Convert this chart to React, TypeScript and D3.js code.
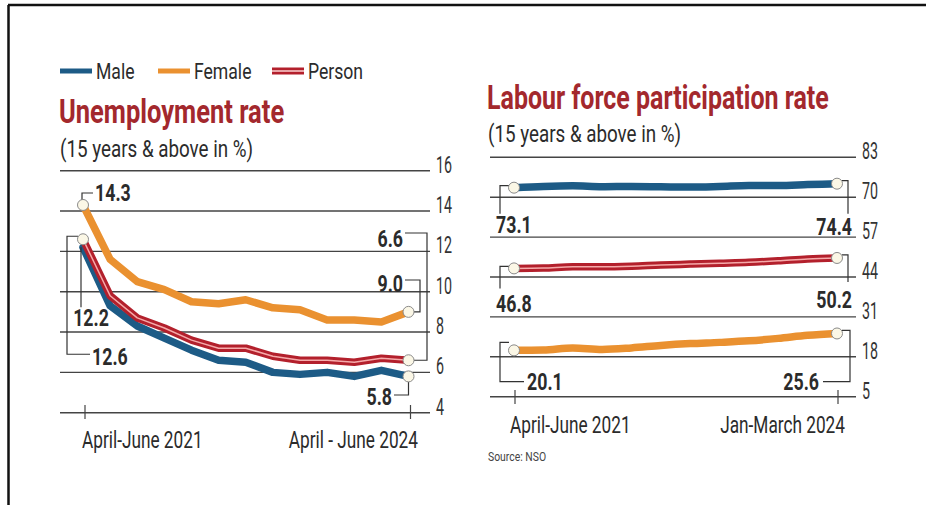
import { useEffect, useRef } from 'react'
import * as d3 from 'd3'

// Unemployment rate, urban, 15+ (%), quarterly
const UR_QUARTERS = ['Apr-Jun 21', 'Jul-Sep 21', 'Oct-Dec 21', 'Jan-Mar 22', 'Apr-Jun 22', 'Jul-Sep 22', 'Oct-Dec 22',
  'Jan-Mar 23', 'Apr-Jun 23', 'Jul-Sep 23', 'Oct-Dec 23', 'Jan-Mar 24', 'Apr-Jun 24']
const UR_MALE   = [12.2, 9.3, 8.3, 7.7, 7.1, 6.6, 6.5, 6.0, 5.9, 6.0, 5.8, 6.1, 5.8]
const UR_FEMALE = [14.3, 11.6, 10.5, 10.1, 9.5, 9.4, 9.6, 9.2, 9.1, 8.6, 8.6, 8.5, 9.0]
const UR_PERSON = [12.6, 9.8, 8.7, 8.2, 7.6, 7.2, 7.2, 6.8, 6.6, 6.6, 6.5, 6.7, 6.6]
const UR_TICKS  = [4, 6, 8, 10, 12, 14, 16]

// Labour force participation rate, urban, 15+ (%)
const LFPR_QUARTERS = ['Apr-Jun 21', 'Jul-Sep 21', 'Oct-Dec 21', 'Jan-Mar 22', 'Apr-Jun 22', 'Jul-Sep 22', 'Oct-Dec 22',
  'Jan-Mar 23', 'Apr-Jun 23', 'Jul-Sep 23', 'Oct-Dec 23', 'Jan-Mar 24']
const LFPR_MALE   = [73.1, 73.5, 73.7, 73.4, 73.5, 73.4, 73.3, 73.5, 73.8, 73.8, 74.1, 74.4]
const LFPR_FEMALE = [20.1, 20.2, 20.9, 20.4, 20.9, 21.7, 22.3, 22.7, 23.2, 24.0, 25.0, 25.6]
const LFPR_PERSON = [46.8, 46.9, 47.3, 47.3, 47.5, 47.9, 48.2, 48.5, 48.8, 49.3, 49.9, 50.2]
const LFPR_TICKS  = [5, 18, 31, 44, 57, 70, 83]

const BLUE   = '#1d5b86'
const ORANGE = '#ea9130'
const RED    = '#b3202c'
const PINK   = '#f6aaaa'
const TITLE  = '#a3282d'
const INK    = '#2b2b2b'
const GRID   = '#444'
const FONT   = "Roboto, 'Noto Sans', sans-serif"

type Sel = d3.Selection<SVGGElement, unknown, null, undefined>

// condensed text: the original face is an extra-condensed sans
function txt(g: Sel, x: number, y: number, s: string, o: { size: number; weight?: number; fill?: string; anchor?: string; sx?: number }) {
  g.append('text')
    .attr('transform', `translate(${x},${y}) scale(${o.sx ?? 0.78},1)`)
    .attr('text-anchor', o.anchor ?? 'start')
    .attr('font-family', FONT)
    .attr('font-size', o.size)
    .attr('font-weight', o.weight ?? 400)
    .attr('fill', o.fill ?? INK)
    .text(s)
}

const VAL = { size: 24, weight: 700, sx: 0.74 }

function bracket(g: Sel, d: string) {
  g.append('path').attr('d', d).attr('fill', 'none').attr('stroke', '#333').attr('stroke-width', 1.2)
}

function drawSeries(g: Sel, xs: d3.ScalePoint<string>, ys: d3.ScaleLinear<number, number>, cats: string[], vals: number[], color: string, double: boolean, curve: d3.CurveFactory) {
  const line = d3.line<number>().x((_, i) => xs(cats[i])!).y(d => ys(d)).curve(curve)
  g.append('path').attr('d', line(vals)).attr('fill', 'none').attr('stroke', color)
    .attr('stroke-width', 7.5).attr('stroke-linejoin', 'round').attr('stroke-linecap', 'round')
  if (double) {
    g.append('path').attr('d', line(vals)).attr('fill', 'none').attr('stroke', PINK)
      .attr('stroke-width', 1.5).attr('stroke-linejoin', 'round')
  }
}

function dot(g: Sel, x: number, y: number) {
  g.append('circle').attr('cx', x).attr('cy', y).attr('r', 5.5)
    .attr('fill', '#fbf7e6').attr('stroke', '#8a8a8a').attr('stroke-width', 1)
}

function grid(g: Sel, ys: d3.ScaleLinear<number, number>, ticks: number[], x0: number, x1: number) {
  ticks.forEach(t => {
    g.append('line').attr('x1', x0).attr('x2', x1).attr('y1', ys(t)).attr('y2', ys(t))
      .attr('stroke', GRID).attr('stroke-width', 1.4)
    txt(g, x1 + 6, ys(t) + 2, String(t), { size: 23, sx: 0.62, fill: '#333' })
  })
}

export default function App() {
  const svgRef = useRef<SVGSVGElement>(null)

  useEffect(() => {
    if (!svgRef.current) return
    const svg = d3.select(svgRef.current)
    svg.selectAll('*').remove()
    const root = svg.append('g') as unknown as Sel

    // frame (top + left rule)
    root.append('line').attr('x1', 8).attr('x2', 926).attr('y1', 5).attr('y2', 5).attr('stroke', '#111').attr('stroke-width', 2.5)
    root.append('line').attr('x1', 8.5).attr('x2', 8.5).attr('y1', 5).attr('y2', 505).attr('stroke', '#111').attr('stroke-width', 2.5)

    // ---------- Unemployment rate ----------
    const L = root.append('g') as unknown as Sel
    const xU = d3.scalePoint<string>().domain(UR_QUARTERS).range([83, 408.5])
    const yU = d3.scaleLinear().domain([4, 16]).range([412.7, 170.7])

    // legend
    const leg = [
      { label: 'Male', color: BLUE, x: 60, double: false },
      { label: 'Female', color: ORANGE, x: 158, double: false },
      { label: 'Person', color: RED, x: 272, double: true },
    ]
    leg.forEach(l => {
      L.append('line').attr('x1', l.x).attr('x2', l.x + 32).attr('y1', 71).attr('y2', 71)
        .attr('stroke', l.color).attr('stroke-width', l.double ? 7 : 5)
      if (l.double) L.append('line').attr('x1', l.x).attr('x2', l.x + 32).attr('y1', 71).attr('y2', 71).attr('stroke', '#fbd0d0').attr('stroke-width', 1.5)
      txt(L, l.x + 36, 79, l.label, { size: 22, sx: 0.8 })
    })

    txt(L, 59, 123, 'Unemployment rate', { size: 34, weight: 700, fill: TITLE, sx: 0.75 })
    txt(L, 60, 157, '(15 years & above in %)', { size: 23.5, sx: 0.8 })

    grid(L, yU, UR_TICKS, 60, 430)
    ;[UR_QUARTERS[0], UR_QUARTERS[UR_QUARTERS.length - 1]].forEach(q => {
      L.append('line').attr('x1', xU(q)! + 2).attr('x2', xU(q)! + 2).attr('y1', 405).attr('y2', 419).attr('stroke', GRID).attr('stroke-width', 1.2)
    })
    txt(L, 82, 448, 'April-June 2021', { size: 23, sx: 0.75 })
    txt(L, 418, 448, 'April - June 2024', { size: 23, sx: 0.75, anchor: 'end' })

    drawSeries(L, xU, yU, UR_QUARTERS, UR_FEMALE, ORANGE, false, d3.curveLinear)
    drawSeries(L, xU, yU, UR_QUARTERS, UR_MALE, BLUE, false, d3.curveLinear)
    drawSeries(L, xU, yU, UR_QUARTERS, UR_PERSON, RED, true, d3.curveLinear)

    const n = UR_QUARTERS.length - 1
    const ux0 = xU(UR_QUARTERS[0])!, ux1 = xU(UR_QUARTERS[n])!
    const f0 = yU(UR_FEMALE[0]), p0 = yU(UR_PERSON[0]), m0 = yU(UR_MALE[0])
    const f1 = yU(UR_FEMALE[n]), p1 = yU(UR_PERSON[n]), m1 = yU(UR_MALE[n])

    bracket(L, `M${ux0 - 1},${f0 - 5} V${f0 - 12} H${ux0 + 10}`)
    txt(L, ux0 + 12, f0 - 4, UR_FEMALE[0].toFixed(1), VAL)
    bracket(L, `M${ux0 - 5},${p0 - 3} H67 V${p0 + 115} H${ux0 + 7}`)
    txt(L, ux0 + 9, p0 + 126, UR_PERSON[0].toFixed(1), VAL)
    bracket(L, `M${ux0 - 2},${m0} V${m0 + 60}`)
    txt(L, ux0 + 8, m0 + 79, UR_MALE[0].toFixed(1), { ...VAL, anchor: 'middle' })

    bracket(L, `M405,233 H427 V${p1} H${ux1 + 5}`)
    txt(L, 403, 247, UR_PERSON[n].toFixed(1), { ...VAL, anchor: 'end' })
    bracket(L, `M405,280 H420 V${f1} H${ux1 + 5}`)
    txt(L, 403, 292, UR_FEMALE[n].toFixed(1), { ...VAL, anchor: 'end' })
    bracket(L, `M${ux1},${m1 + 5} V395 H394`)
    txt(L, 392, 405, UR_MALE[n].toFixed(1), { ...VAL, anchor: 'end' })

    dot(L, ux0, f0); dot(L, ux0, p0)
    dot(L, ux1, f1); dot(L, ux1, p1); dot(L, ux1, m1)

    // ---------- Labour force participation rate ----------
    const R = root.append('g') as unknown as Sel
    const xL = d3.scalePoint<string>().domain(LFPR_QUARTERS).range([514, 837])
    const yL = d3.scaleLinear().domain([5, 83]).range([396.7, 157.3])

    txt(R, 487, 109, 'Labour force participation rate', { size: 34, weight: 700, fill: TITLE, sx: 0.735 })
    txt(R, 488, 142, '(15 years & above in %)', { size: 23.5, sx: 0.8 })

    grid(R, yL, LFPR_TICKS, 490, 856)
    ;[LFPR_QUARTERS[0], LFPR_QUARTERS[LFPR_QUARTERS.length - 1]].forEach(q => {
      R.append('line').attr('x1', xL(q)! + 1).attr('x2', xL(q)! + 1).attr('y1', 390).attr('y2', 404).attr('stroke', GRID).attr('stroke-width', 1.2)
    })
    txt(R, 510, 433, 'April-June 2021', { size: 23, sx: 0.75 })
    txt(R, 845, 433, 'Jan-March 2024', { size: 23, sx: 0.75, anchor: 'end' })
    txt(R, 488, 461, 'Source: NSO', { size: 13, sx: 0.8, fill: '#444' })

    drawSeries(R, xL, yL, LFPR_QUARTERS, LFPR_MALE, BLUE, false, d3.curveMonotoneX)
    drawSeries(R, xL, yL, LFPR_QUARTERS, LFPR_PERSON, RED, true, d3.curveMonotoneX)
    drawSeries(R, xL, yL, LFPR_QUARTERS, LFPR_FEMALE, ORANGE, false, d3.curveMonotoneX)

    const k = LFPR_QUARTERS.length - 1
    const lx0 = xL(LFPR_QUARTERS[0])!, lx1 = xL(LFPR_QUARTERS[k])!
    const series = [
      { vals: LFPR_MALE,   drop: 26, lab: 45 },
      { vals: LFPR_PERSON, drop: 20, lab: 44 },
    ]
    series.forEach(s => {
      const a = yL(s.vals[0]), b = yL(s.vals[k])
      bracket(R, `M${lx0 - 5},${a - 2} H500 V${a + s.drop}`)
      txt(R, 496, a + s.lab, s.vals[0].toFixed(1), VAL)
      bracket(R, `M${lx1 + 5},${b - 3} H848 V${b + s.drop + 4}`)
      txt(R, 852, b + s.lab + 6, s.vals[k].toFixed(1), { ...VAL, anchor: 'end' })
      dot(R, lx0, a); dot(R, lx1, b)
    })
    const fa = yL(LFPR_FEMALE[0]), fb = yL(LFPR_FEMALE[k])
    bracket(R, `M${lx0 - 5},${fa - 8} H500 V381.7 H524`)
    txt(R, 527, 390, LFPR_FEMALE[0].toFixed(1), VAL)
    bracket(R, `M${lx1 + 5},${fb - 3} H850 V381.7 H823`)
    txt(R, 819, 390, LFPR_FEMALE[k].toFixed(1), { ...VAL, anchor: 'end' })
    dot(R, lx0, fa); dot(R, lx1, fb)
  }, [])

  return (
    <svg ref={svgRef} width={926} height={505}
      style={{ position: 'absolute', left: 0, top: 0, background: '#fff', display: 'block' }} />
  )
}
